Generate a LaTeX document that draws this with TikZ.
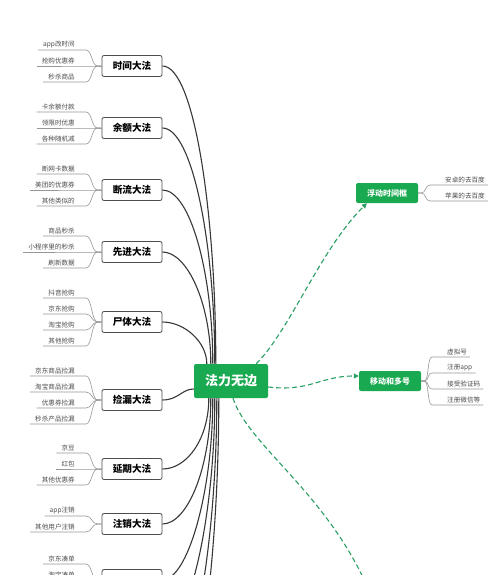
\documentclass[tikz,border=0pt]{standalone}
\usepackage{fontspec}
\setmainfont{Noto Sans CJK SC}
\usetikzlibrary{arrows.meta, calc}
\definecolor{mapgreen}{RGB}{25,169,80}
\definecolor{linkgreen}{RGB}{40,158,100}
\definecolor{trunkgray}{RGB}{55,55,55}
\definecolor{twiggray}{RGB}{150,150,150}

\begin{document}
\begin{tikzpicture}[
    x=1pt, y=-1pt,
    hub/.style={rectangle, rounded corners=2pt, fill=mapgreen, text=white, minimum width=74pt,
                minimum height=34pt, inner sep=0pt, font=\fontsize{13}{13}\selectfont\bfseries},
    method/.style={rectangle, rounded corners=2pt, draw=black!70, fill=white, line width=0.8pt,
                   minimum width=60pt, minimum height=21pt, inner sep=0pt,
                   font=\fontsize{9.6}{10}\selectfont\bfseries},
    floatbox/.style={rectangle, rounded corners=2pt, fill=mapgreen, text=white, minimum width=62pt,
                     minimum height=20pt, inner sep=0pt, font=\fontsize{8}{8}\selectfont\bfseries},
    leaf/.style={anchor=south east, inner xsep=5pt, inner ysep=1.5pt, text=black!70,
                 font=\fontsize{6.6}{7}\selectfont},
    rleaf/.style={anchor=south west, inner xsep=3pt, inner ysep=1.5pt, text=black!70,
                  font=\fontsize{6.6}{7}\selectfont},
    trunk/.style={draw=trunkgray, line width=1.1pt},
    twig/.style={draw=twiggray, line width=0.6pt},
    link/.style={draw=linkgreen, line width=1.1pt, dash pattern=on 5pt off 3pt,
                 -{Triangle[length=5pt, width=5pt]}}
]
    \useasboundingbox (0,0) rectangle (500,575);
    \clip (0,0) rectangle (500,575);

    % Root
    \node[hub] (hub) at (231,381) {法力无边};

    % Left methods
    \node[method] (m1) at (132,66) {时间大法};
    \node[method] (m2) at (132,128) {余额大法};
    \node[method] (m3) at (132,190) {断流大法};
    \node[method] (m4) at (132,252) {先进大法};
    \node[method] (m5) at (132,322) {尸体大法};
    \node[method] (m6) at (132,400) {捡漏大法};
    \node[method] (m7) at (132,469) {延期大法};
    \node[method] (m8) at (132,524) {注销大法};
    \node[method] (m9) at (132,580) {};

    % Branches running off the bottom edge
    \coordinate (off1) at (162,630);
    \coordinate (off2) at (162,690);
    \coordinate (off3) at (162,750);

    % Leaves of the left methods
    \node[leaf] (m1a) at (86,50) {app改时间\hspace*{6pt}};
    \node[leaf] (m1b) at (86,66) {抢购优惠券\hspace*{6pt}};
    \node[leaf] (m1c) at (86,82) {秒杀商品\hspace*{6pt}};

    \node[leaf] (m2a) at (86,112) {卡余额付款\hspace*{6pt}};
    \node[leaf] (m2b) at (86,128) {领限时优惠\hspace*{6pt}};
    \node[leaf] (m2c) at (86,144) {各种随机减\hspace*{6pt}};

    \node[leaf] (m3a) at (86,174) {断网卡数据\hspace*{6pt}};
    \node[leaf] (m3b) at (86,190) {美团的优惠券\hspace*{6pt}};
    \node[leaf] (m3c) at (86,206) {其他类似的\hspace*{6pt}};

    \node[leaf] (m4a) at (86,236) {商品秒杀\hspace*{6pt}};
    \node[leaf] (m4b) at (86,252) {小程序里的秒杀\hspace*{6pt}};
    \node[leaf] (m4c) at (86,268) {刷新数据\hspace*{6pt}};

    \node[leaf] (m5a) at (86,298) {抖音抢购\hspace*{6pt}};
    \node[leaf] (m5b) at (86,314) {京东抢购\hspace*{6pt}};
    \node[leaf] (m5c) at (86,330) {淘宝抢购\hspace*{6pt}};
    \node[leaf] (m5d) at (86,346) {其他抢购\hspace*{6pt}};

    \node[leaf] (m6a) at (86,376) {京东商品捡漏\hspace*{6pt}};
    \node[leaf] (m6b) at (86,392) {淘宝商品捡漏\hspace*{6pt}};
    \node[leaf] (m6c) at (86,408) {优惠券捡漏\hspace*{6pt}};
    \node[leaf] (m6d) at (86,424) {秒杀产品捡漏\hspace*{6pt}};

    \node[leaf] (m7a) at (86,453) {京豆\hspace*{6pt}};
    \node[leaf] (m7b) at (86,469) {红包\hspace*{6pt}};
    \node[leaf] (m7c) at (86,485) {其他优惠券\hspace*{6pt}};

    \node[leaf] (m8a) at (86,516) {app注销\hspace*{6pt}};
    \node[leaf] (m8b) at (86,532) {其他用户注销\hspace*{6pt}};

    \node[leaf] (m9a) at (86,564) {京东凑单\hspace*{6pt}};
    \node[leaf] (m9b) at (86,580) {淘宝凑单\hspace*{6pt}};

    % Right boxes and their leaves
    \node[floatbox] (fudong) at (387,193) {浮动时间框};
    \node[floatbox] (yidong) at (390,381) {移动和多号};

    \node[rleaf] (f1) at (430,185) {\hspace*{12pt}安卓的去百度};
    \node[rleaf] (f2) at (430,201) {\hspace*{12pt}苹果的去百度};

    \node[rleaf] (y1) at (432,357) {\hspace*{12pt}虚拟号};
    \node[rleaf] (y2) at (432,373) {\hspace*{12pt}注册app};
    \node[rleaf] (y3) at (432,389) {\hspace*{12pt}接受验证码};
    \node[rleaf] (y4) at (432,405) {\hspace*{12pt}注册微信等};

    % Trunks into the top of the root
    \draw[trunk] (m1.east) .. controls +(32,0) and +(0,-150) .. ([xshift=22pt]hub.north west);
    \draw[trunk] (m2.east) .. controls +(30,0) and +(0,-120) .. ([xshift=21pt]hub.north west);
    \draw[trunk] (m3.east) .. controls +(28,0) and +(0,-90) .. ([xshift=19pt]hub.north west);
    \draw[trunk] (m4.east) .. controls +(25,0) and +(0,-60) .. ([xshift=17pt]hub.north west);
    \draw[trunk] (m5.east) .. controls +(22,0) and +(0,-22) .. ([xshift=13pt]hub.north west);
    \draw[trunk] (m6.east) .. controls +(16,0) and +(-12,0) .. ([yshift=-8pt]hub.west);

    % Trunks out of the bottom of the root
    \draw[trunk] (m7.east) .. controls +(25,0) and +(0,40) .. ([xshift=15pt]hub.south west);
    \draw[trunk] (m8.east) .. controls +(25,0) and +(0,70) .. ([xshift=17pt]hub.south west);
    \draw[trunk] (m9.east) .. controls +(25,0) and +(0,95) .. ([xshift=19pt]hub.south west);
    \draw[trunk] (off1) .. controls +(28,0) and +(0,115) .. ([xshift=21pt]hub.south west);
    \draw[trunk] (off2) .. controls +(30,0) and +(0,145) .. ([xshift=23pt]hub.south west);
    \draw[trunk] (off3) .. controls +(32,0) and +(0,175) .. ([xshift=25pt]hub.south west);

    % Twigs to the leaves
    \foreach \m/\l in {m1/m1a, m1/m1b, m1/m1c, m2/m2a, m2/m2b, m2/m2c, m3/m3a, m3/m3b, m3/m3c,
                       m4/m4a, m4/m4b, m4/m4c, m5/m5a, m5/m5b, m5/m5c, m5/m5d,
                       m6/m6a, m6/m6b, m6/m6c, m6/m6d, m7/m7a, m7/m7b, m7/m7c,
                       m8/m8a, m8/m8b, m9/m9a, m9/m9b}
        \draw[twig] (\m.west) -- ++(-4,0) .. controls +(-6,0) and +(6,0) .. (\l.south east) -- (\l.south west);
    \foreach \m/\l in {fudong/f1, fudong/f2, yidong/y1, yidong/y2, yidong/y3, yidong/y4}
        \draw[twig] (\m.east) -- ++(3,0) .. controls +(5,0) and +(-5,0) .. (\l.south west) -- (\l.south east);

    % Dashed links to the right
    \coordinate (down) at (380,620);
    \draw[link] ([xshift=-12pt]hub.north east) .. controls (290,330) and (320,250) .. ([xshift=11pt]fudong.south west);
    \draw[link] ([yshift=-6pt]hub.east) .. controls (310,392) and (320,376) .. ([yshift=5pt]yidong.west);
    \draw[link] ([xshift=2pt]hub.south) .. controls (250,450) and (340,500) .. (down);
\end{tikzpicture}
\end{document}
